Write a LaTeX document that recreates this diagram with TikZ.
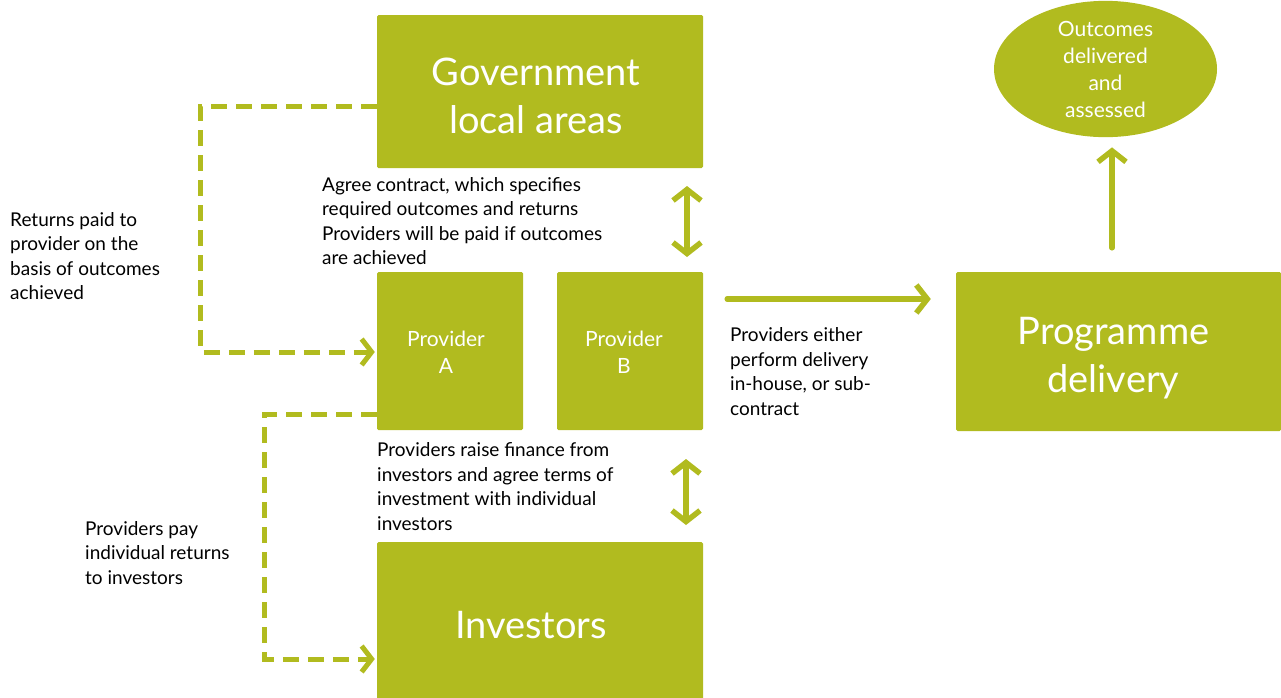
\documentclass[tikz,border=0pt]{standalone}
\usepackage{fontspec}
\setmainfont{Lato}
\usetikzlibrary{arrows.meta,shapes.geometric,calc}
\definecolor{olive}{HTML}{B1BB1F}
\begin{document}
\begin{tikzpicture}[x=1pt,y=-1pt,
  box/.style={fill=olive,draw=none,rounded corners=1.5pt,inner sep=0pt},
  boxtext/.style={text=white,align=center,inner sep=0pt},
  big/.style={font=\fontsize{38}{48}\selectfont},
  mid/.style={font=\fontsize{21}{27}\selectfont},
  lbl/.style={anchor=base west,align=left,inner sep=0pt,font=\fontsize{19}{24.5}\selectfont},
  solidarr/.style={draw=olive,line width=5.5pt,line cap=round,-{Straight Barb[length=11pt,width=28pt,line width=5.5pt]}},
  dblarr/.style={draw=olive,line width=5.5pt,line cap=round,{Straight Barb[length=11pt,width=28pt,line width=5.5pt]}-{Straight Barb[length=11pt,width=28pt,line width=5.5pt]}},
  dasharr/.style={draw=olive,line width=5pt,dash pattern=on 16pt off 9pt,-{Straight Barb[length=10pt,width=26pt,line width=5pt]}}
]
\useasboundingbox (0,0) rectangle (1281,697);
\node[box,minimum width=326pt,minimum height=153pt] (gov) at (540,91.5) {};
\node[box,minimum width=146pt,minimum height=158pt] (pa) at (450,351) {};
\node[box,minimum width=146pt,minimum height=158pt] (pb) at (630,351) {};
\node[box,minimum width=326pt,minimum height=160pt] (inv) at (540,622) {};
\node[box,minimum width=325pt,minimum height=159pt] (prog) at (1118.5,351.5) {};
\node[boxtext,big] (govt) at ($(gov)+(-4,4)$) {Government\\local areas};
\node[boxtext,mid] (pat) at ($(pa)+(-4,1)$) {Provider\\A};
\node[boxtext,mid] (pbt) at ($(pb)+(-6,1)$) {Provider\\B};
\node[boxtext,big] (invt) at ($(inv)+(-9,3)$) {Investors};
\node[boxtext,big] (progt) at ($(prog)+(-5,7)$) {Programme\\delivery};
\node[ellipse,fill=olive,text=white,align=center,inner sep=0pt,minimum width=223pt,minimum height=130pt,font=\fontsize{21}{27}\selectfont] (out) at (1105.5,69) {Outcomes\\delivered\\and\\assessed};

\coordinate (ua) at (687,186);
\coordinate (ub) at (687,257);
\draw[dblarr] (ua) -- (ub);
\coordinate (la) at (686,459);
\coordinate (lb) at (686,525);
\draw[dblarr] (la) -- (lb);
\draw[solidarr] ($(pb.east)+(24,-52)$) -- ($(prog.west)+(-25,-52.5)$);
\draw[solidarr] ($(prog.north)+(-6.5,-24)$) -- ($(out.south)+(6.5,10)$);

\draw[dasharr] ($(gov.west)+(0,14.5)$) -| ($(pa.west)+(-176,1)$) -- ($(pa.west)+(-2,1)$);
\draw[dasharr] ($(pa.west)+(0,63)$) -| ($(inv.west)+(-112,37)$) -- ($(inv.west)+(-2,37)$);

\node[lbl] (t1) at (322,264.5) {Agree contract, which specifies\\required outcomes and returns\\Providers will be paid if outcomes\\are achieved};
\node[lbl] (t2) at (10,299.5) {Returns paid to\\provider on the\\basis of outcomes\\achieved};
\node[lbl] (t3) at (730,415) {Providers either\\perform delivery\\in-house, or sub-\\contract};
\node[lbl] (t4) at (377,530) {Providers raise finance from\\investors and agree terms of\\investment with individual\\investors};
\node[lbl] (t5) at (85,584) {Providers pay\\individual returns\\to investors};
\end{tikzpicture}
\end{document}
